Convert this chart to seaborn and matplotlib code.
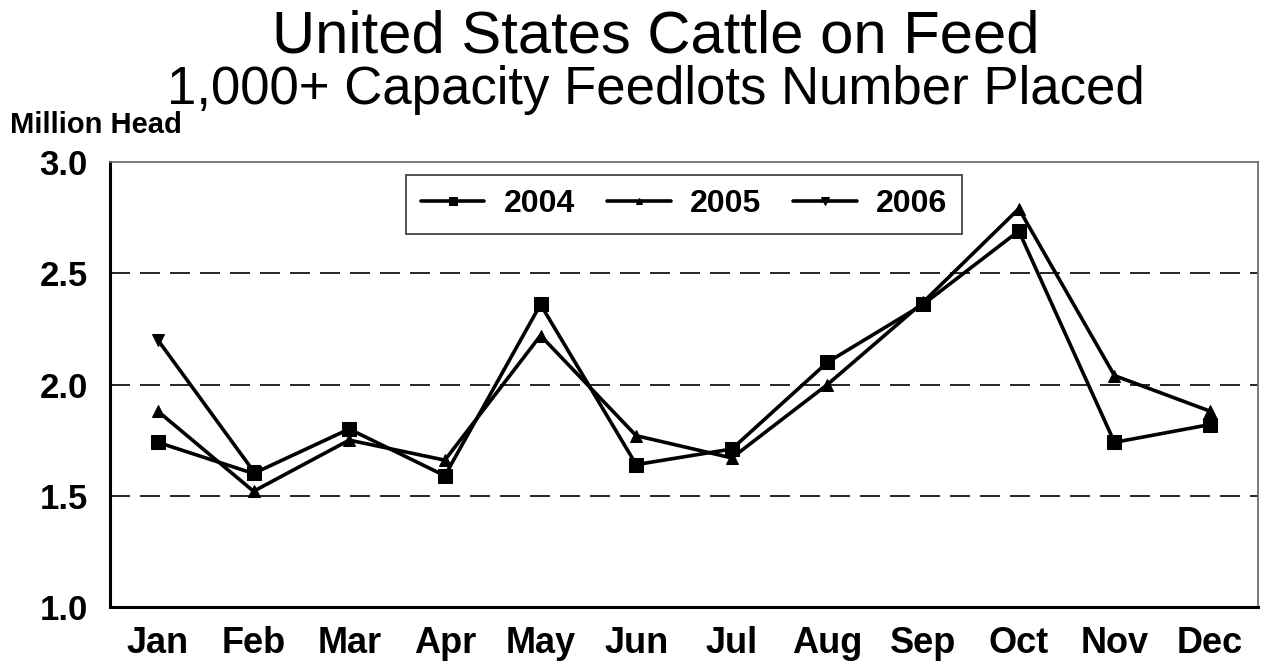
import numpy as np
import pandas as pd
import matplotlib
matplotlib.use("Agg")
import matplotlib.pyplot as plt
import seaborn as sns

# --------------------------------------------------
# DATA
# --------------------------------------------------

months = ["Jan", "Feb", "Mar", "Apr", "May", "Jun",
          "Jul", "Aug", "Sep", "Oct", "Nov", "Dec"]

y2004 = [1.74, 1.60, 1.80, 1.59, 2.36, 1.64,
         1.71, 2.10, 2.36, 2.69, 1.74, 1.82]

y2005 = [1.88, 1.52, 1.75, 1.66, 2.22, 1.77,
         1.67, 2.00, 2.37, 2.79, 2.04, 1.88]

y2006 = [2.20, 1.61, np.nan, np.nan, np.nan, np.nan,
         np.nan, np.nan, np.nan, np.nan, np.nan, np.nan]

years = ["2004", "2005", "2006"]
series = [y2004, y2005, y2006]
markers = ["s", "^", "v"]
msizes = [10, 8, 9]

# --------------------------------------------------
# PLOT
# --------------------------------------------------

sns.set_style("white")
plt.rcParams["font.family"] = ["Liberation Sans", "DejaVu Sans"]
plt.rcParams["text.color"] = "black"

fig = plt.figure(figsize=(12.62, 6.69), dpi=100)
ax = fig.add_axes([0.0872, 0.0927, 0.9096, 0.6651])

for yr, vals, mk, ms in zip(years, series, markers, msizes):
    df = pd.DataFrame({"Month": months, "Value": vals}).dropna()
    sns.lineplot(
        data=df,
        x="Month",
        y="Value",
        ax=ax,
        color="black",
        linewidth=2.6,
        marker=mk,
        markersize=ms,
        markeredgecolor="black",
        label=yr,
    )

ax.set_xlim(-0.5, 11.5)
ax.set_ylim(1.0, 3.0)
ax.set_xticks(range(12))
ax.set_xticklabels(months)
ax.set_yticks([1.0, 1.5, 2.0, 2.5, 3.0])
ax.set_yticks([1.25, 1.75, 2.25, 2.75], minor=True)
ax.set_yticklabels(["1.0", "1.5", "2.0", "2.5", "3.0"])
ax.set_xlabel("")
ax.set_ylabel("")

for g in [1.5, 2.0, 2.5]:
    ax.axhline(g, color="black", linewidth=1.2,
               linestyle=(0, (12, 6)), zorder=0)

ax.tick_params(axis="y", which="both", direction="in", length=10,
               color="#777777", width=1.2, labelsize=25, pad=16,
               labelcolor="black")
ax.tick_params(axis="x", which="major", direction="in", length=10,
               color="#777777", width=1.2, labelsize=26, pad=14,
               labelcolor="black")
for lab in ax.get_xticklabels() + ax.get_yticklabels():
    lab.set_fontweight("bold")

for side in ["left", "bottom"]:
    ax.spines[side].set_color("black")
    ax.spines[side].set_linewidth(2.2)
for side in ["top", "right"]:
    ax.spines[side].set_color("#666666")
    ax.spines[side].set_linewidth(1.2)

leg = ax.legend(
    loc="upper center",
    bbox_to_anchor=(0.5, 0.971),
    borderaxespad=0,
    ncol=3,
    frameon=True,
    fancybox=False,
    edgecolor="black",
    prop={"size": 23, "weight": "bold"},
    markerscale=0.6,
    handlelength=2.0,
    handletextpad=0.6,
    columnspacing=1.0,
    borderpad=0.45,
)
leg.get_frame().set_linewidth(1.2)

fig.text(0.52, 0.922, "United States Cattle on Feed",
         ha="center", va="baseline", fontsize=43)
fig.text(0.52, 0.845, "1,000+ Capacity Feedlots Number Placed",
         ha="center", va="baseline", fontsize=38)
fig.text(0.008, 0.801, "Million Head",
         ha="left", va="baseline", fontsize=21, fontweight="bold")

plt.savefig("out.png", dpi=100)
plt.close()
